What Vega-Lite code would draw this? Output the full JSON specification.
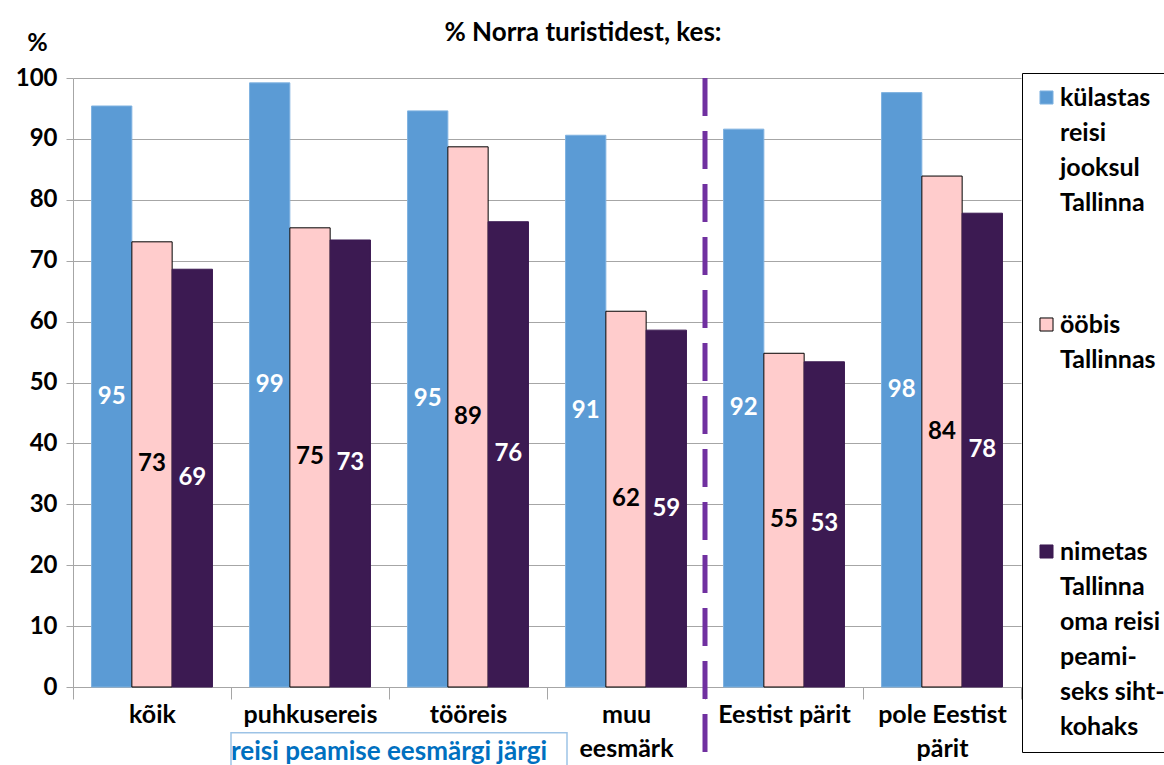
{
  "$schema": "https://vega.github.io/schema/vega-lite/v6.json",
  "autosize": {"type": "none"},
  "padding": {"left": 73, "top": 78, "right": 143, "bottom": 78},
  "width": 948,
  "height": 609,
  "background": "white",
  "config": {"font": "Lato", "view": {"stroke": null}},
  "title": {"text": "% Norra turistidest, kes:", "fontSize": 26, "fontWeight": "bold", "color": "black", "anchor": "middle", "dx": 36, "offset": 0, "dy": 16, "font": "Lato"},
  "datasets": {
    "main": [
      {"cat": "kõik", "series": "külastas reisi jooksul Tallinna", "value": 95.4},
      {"cat": "kõik", "series": "ööbis Tallinnas", "value": 73.1},
      {"cat": "kõik", "series": "nimetas Tallinna oma reisi peamiseks sihtkohaks", "value": 68.6},
      {"cat": "puhkusereis", "series": "külastas reisi jooksul Tallinna", "value": 99.2},
      {"cat": "puhkusereis", "series": "ööbis Tallinnas", "value": 75.4},
      {"cat": "puhkusereis", "series": "nimetas Tallinna oma reisi peamiseks sihtkohaks", "value": 73.4},
      {"cat": "tööreis", "series": "külastas reisi jooksul Tallinna", "value": 94.6},
      {"cat": "tööreis", "series": "ööbis Tallinnas", "value": 88.7},
      {"cat": "tööreis", "series": "nimetas Tallinna oma reisi peamiseks sihtkohaks", "value": 76.4},
      {"cat": "muu eesmärk", "series": "külastas reisi jooksul Tallinna", "value": 90.6},
      {"cat": "muu eesmärk", "series": "ööbis Tallinnas", "value": 61.7},
      {"cat": "muu eesmärk", "series": "nimetas Tallinna oma reisi peamiseks sihtkohaks", "value": 58.6},
      {"cat": "Eestist pärit", "series": "külastas reisi jooksul Tallinna", "value": 91.6},
      {"cat": "Eestist pärit", "series": "ööbis Tallinnas", "value": 54.8},
      {"cat": "Eestist pärit", "series": "nimetas Tallinna oma reisi peamiseks sihtkohaks", "value": 53.4},
      {"cat": "pole Eestist pärit", "series": "külastas reisi jooksul Tallinna", "value": 97.6},
      {"cat": "pole Eestist pärit", "series": "ööbis Tallinnas", "value": 83.9},
      {"cat": "pole Eestist pärit", "series": "nimetas Tallinna oma reisi peamiseks sihtkohaks", "value": 77.8}
    ]
  },
  "resolve": {"scale": {"y": "independent"}},
  "layer": [
    {
      "data": {"name": "main"},
      "mark": {"type": "bar", "strokeWidth": 1},
      "encoding": {
        "x": {
          "field": "cat", "type": "nominal",
          "scale": {"domain": ["kõik", "puhkusereis", "tööreis", "muu eesmärk", "Eestist pärit", "pole Eestist pärit"], "paddingInner": 0, "paddingOuter": 0},
          "axis": {
            "title": null, "labelAngle": 0, "labelFontSize": 25, "labelFontWeight": "bold", "labelColor": "black",
            "labelFont": "Lato", "tickBand": "extent", "tickSize": 12, "tickColor": "#A6A6A6", "domainColor": "#A6A6A6",
            "labelPadding": 3, "labelLineHeight": 34, "labelBaseline": "top",
            "labelExpr": "datum.value == 'muu eesmärk' ? ['muu', 'eesmärk'] : datum.value == 'pole Eestist pärit' ? ['pole Eestist', 'pärit'] : datum.value"
          }
        },
        "xOffset": {
          "field": "series", "type": "nominal",
          "scale": {"domain": ["külastas reisi jooksul Tallinna", "ööbis Tallinnas", "nimetas Tallinna oma reisi peamiseks sihtkohaks"], "paddingInner": 0, "paddingOuter": 0.46}
        },
        "y": {
          "field": "value", "type": "quantitative",
          "scale": {"domain": [0, 100], "nice": false},
          "axis": {
            "values": [0, 10, 20, 30, 40, 50, 60, 70, 80, 90, 100],
            "title": "%", "titleAngle": 0, "titleX": -36, "titleY": -36, "titleAlign": "center", "titleBaseline": "middle",
            "titleFontSize": 25, "titleFontWeight": "bold", "titleColor": "black", "titleFont": "Lato",
            "labelFontSize": 24, "labelFontWeight": "bold", "labelColor": "black", "labelFont": "Lato", "labelPadding": 9,
            "tickSize": 7, "tickColor": "#A6A6A6", "domainColor": "#A6A6A6",
            "grid": true, "gridColor": "#A6A6A6", "gridWidth": 1
          }
        },
        "fill": {
          "field": "series", "type": "nominal",
          "scale": {"domain": ["külastas reisi jooksul Tallinna", "ööbis Tallinnas", "nimetas Tallinna oma reisi peamiseks sihtkohaks"], "range": ["#5B9BD5", "#FFCCCC", "#3C1A52"]},
          "legend": {
            "title": null, "orient": "none", "legendX": 949, "legendY": -5, "strokeColor": "black", "padding": 12,
            "symbolType": "square", "symbolSize": 170, "labelFontSize": 25, "labelFontWeight": "bold",
            "labelColor": "black", "labelFont": "Lato", "labelLimit": 0, "labelOffset": 1, "rowPadding": 96,
            "labelExpr": "datum.value == 'ööbis Tallinnas' ? ['ööbis', 'Tallinnas', '', ''] : datum.value == 'külastas reisi jooksul Tallinna' ? ['külastas', 'reisi', 'jooksul', 'Tallinna'] : ['nimetas', 'Tallinna', 'oma reisi', 'peami-', 'seks siht-', 'kohaks']",
            "encode": {
              "labels": {"update": {"lineHeight": {"value": 35}}},
              "symbols": {"update": {"stroke": {"signal": "datum.value === 'ööbis Tallinnas' ? '#000000' : 'transparent'"}, "strokeWidth": {"value": 1}}}
            }
          }
        },
        "stroke": {
          "field": "series", "type": "nominal",
          "scale": {"domain": ["külastas reisi jooksul Tallinna", "ööbis Tallinnas", "nimetas Tallinna oma reisi peamiseks sihtkohaks"], "range": ["#7FB2E0", "#000000", "#3C1A52"]},
          "legend": null
        }
      }
    },
    {
      "data": {"name": "main"},
      "mark": {"type": "text", "fontSize": 24, "fontWeight": "bold", "baseline": "middle", "font": "Lato"},
      "encoding": {
        "x": {"field": "cat", "type": "nominal"},
        "xOffset": {"field": "series", "type": "nominal"},
        "y": {"field": "value", "type": "quantitative", "scale": {"domain": [0, 200], "nice": false}, "axis": null},
        "text": {"field": "value", "type": "quantitative", "format": ".0f"},
        "color": {"condition": {"test": "datum.series == 'ööbis Tallinnas'", "value": "black"}, "value": "white"}
      }
    },
    {
      "data": {"values": [{"cat": "Eestist pärit"}]},
      "mark": {"type": "rule", "color": "#7030A0", "strokeWidth": 5, "strokeDash": [38, 15]},
      "encoding": {
        "x": {"field": "cat", "type": "nominal", "bandPosition": 0},
        "y": {"datum": 100, "type": "quantitative", "scale": {"domain": [0, 100], "nice": false}, "axis": null},
        "y2": {"datum": -13}
      }
    },
    {
      "data": {"values": [{"cat": "puhkusereis", "to": "muu eesmärk"}]},
      "mark": {"type": "rect", "fill": null, "fillOpacity": 0, "stroke": "#9DC3E6", "strokeWidth": 1.5, "x2Offset": -59},
      "encoding": {
        "x": {"field": "cat", "type": "nominal", "bandPosition": 0},
        "x2": {"field": "to"},
        "y": {"datum": -7.5, "type": "quantitative", "scale": {"domain": [0, 100], "nice": false}, "axis": null},
        "y2": {"datum": -13.5}
      }
    },
    {
      "data": {"values": [{"cat": "tööreis", "note": "reisi peamise eesmärgi järgi"}]},
      "mark": {"type": "text", "fontSize": 26, "fontWeight": "bold", "color": "#0070C0", "baseline": "middle", "align": "center", "font": "Lato"},
      "encoding": {
        "x": {"field": "cat", "type": "nominal", "bandPosition": 0},
        "y": {"datum": -10.6, "type": "quantitative", "scale": {"domain": [0, 100], "nice": false}, "axis": null},
        "text": {"field": "note"}
      }
    }
  ]
}
